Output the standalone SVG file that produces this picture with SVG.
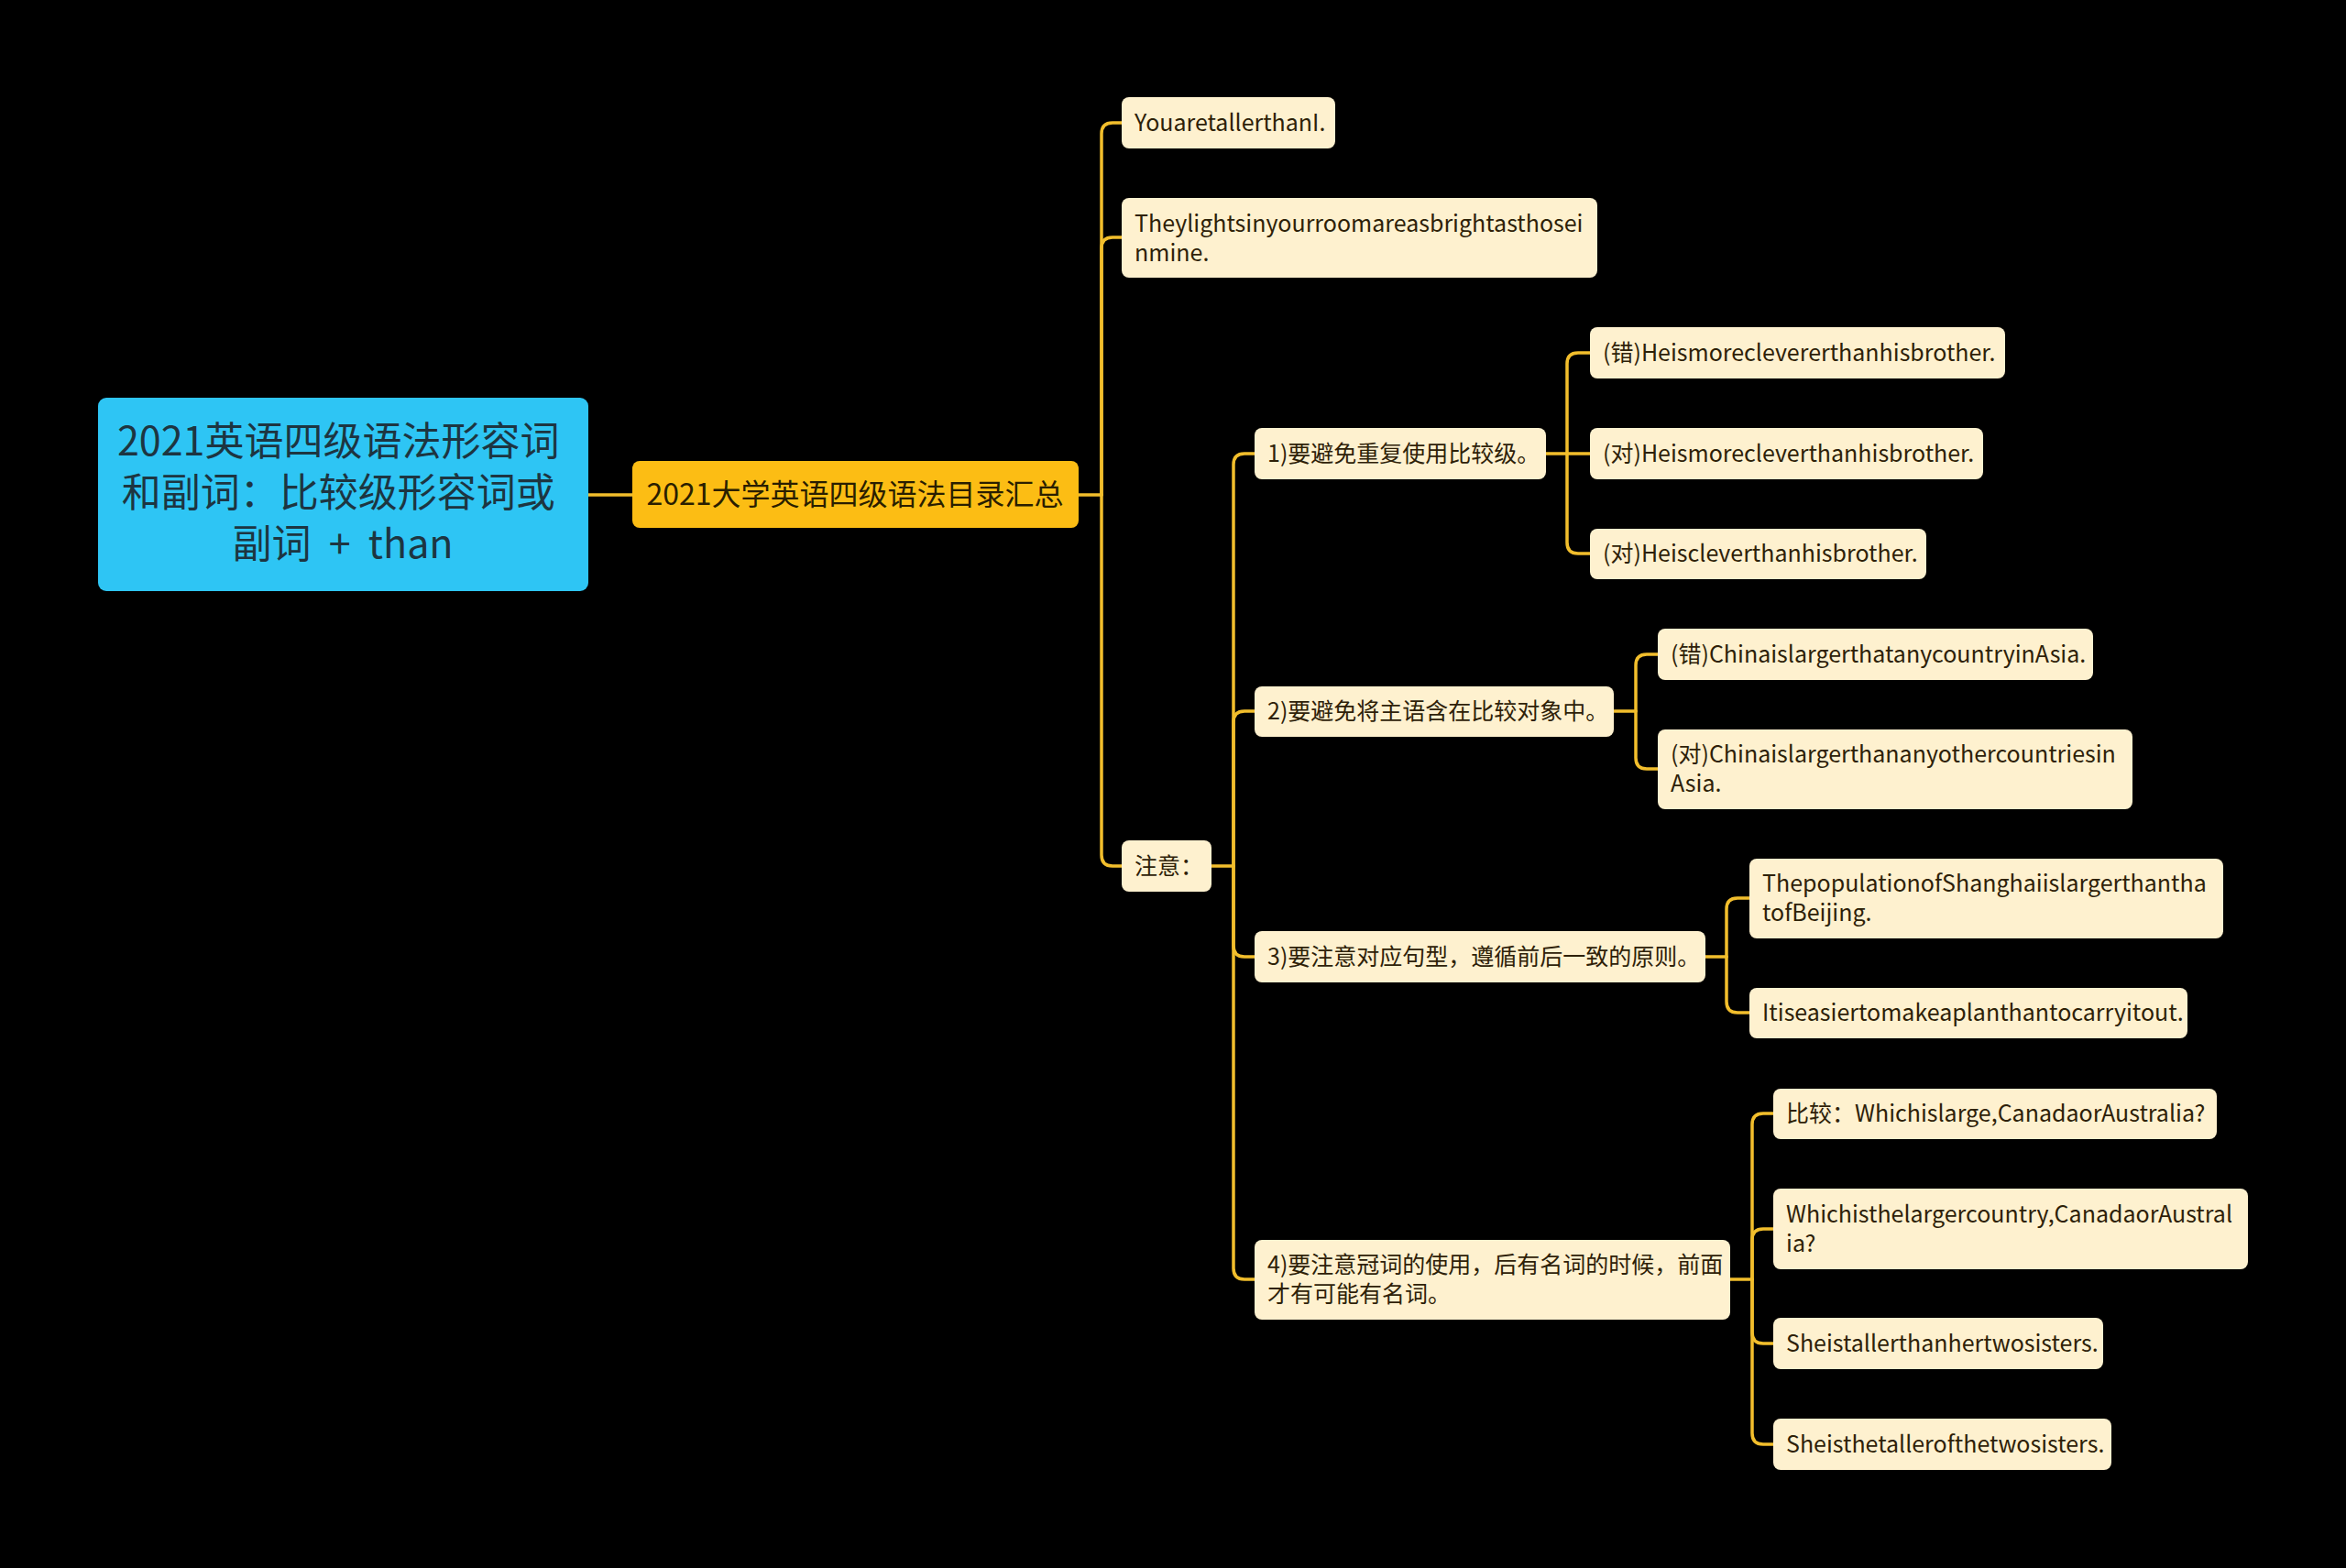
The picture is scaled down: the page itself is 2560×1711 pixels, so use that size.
<svg xmlns="http://www.w3.org/2000/svg" width="2560" height="1711" viewBox="0 0 2560 1711">
<style>
.bg{fill:#000}
.leaf{fill:#FEF1CF}
.t{font-family:"Noto Sans CJK SC","Noto Sans",sans-serif;font-size:25px;fill:#2E2108}
.c{fill:none;stroke:#F2BE2C;stroke-width:3.5;stroke-linecap:round}
</style>
<rect class="bg" x="0" y="0" width="2560" height="1711"/>
<g id="connectors">
<path class="c" d="M642 540 L690 540"/>
<path class="c" d="M1177 540 L1202 540"/>
<path class="c" d="M1202 540 L1202 146 Q1202 134 1214 134 L1224 134"/>
<path class="c" d="M1202 540 L1202 271 Q1202 259 1214 259 L1224 259"/>
<path class="c" d="M1202 540 L1202 933 Q1202 945 1214 945 L1224 945"/>
<path class="c" d="M1322 945 L1346 945"/>
<path class="c" d="M1346 945 L1346 507 Q1346 495 1358 495 L1369 495"/>
<path class="c" d="M1346 945 L1346 788 Q1346 776 1358 776 L1369 776"/>
<path class="c" d="M1346 945 L1346 1032 Q1346 1044 1358 1044 L1369 1044"/>
<path class="c" d="M1346 945 L1346 1384 Q1346 1396 1358 1396 L1369 1396"/>
<path class="c" d="M1687 495 L1735 495"/>
<path class="c" d="M1710 495 L1710 397 Q1710 385 1722 385 L1735 385"/>
<path class="c" d="M1710 495 L1710 592 Q1710 604 1722 604 L1735 604"/>
<path class="c" d="M1761 776 L1785 776"/>
<path class="c" d="M1785 776 L1785 726 Q1785 714 1797 714 L1809 714"/>
<path class="c" d="M1785 776 L1785 827 Q1785 839 1797 839 L1809 839"/>
<path class="c" d="M1861 1044 L1884 1044"/>
<path class="c" d="M1884 1044 L1884 992 Q1884 980 1896 980 L1909 980"/>
<path class="c" d="M1884 1044 L1884 1093 Q1884 1105 1896 1105 L1909 1105"/>
<path class="c" d="M1888 1396 L1912 1396"/>
<path class="c" d="M1912 1396 L1912 1227 Q1912 1215 1924 1215 L1935 1215"/>
<path class="c" d="M1912 1396 L1912 1353 Q1912 1341 1924 1341 L1935 1341"/>
<path class="c" d="M1912 1396 L1912 1454 Q1912 1466 1924 1466 L1935 1466"/>
<path class="c" d="M1912 1396 L1912 1564 Q1912 1576 1924 1576 L1935 1576"/>
</g>
<g id="root">
<rect x="107" y="434" width="535" height="211" rx="9" fill="#2EC5F4"/>
<text font-family="'Noto Sans CJK SC','Noto Sans',sans-serif" font-size="43" fill="#1D3541" text-anchor="middle">
<tspan x="374" y="497">2021英语四级语法形容词</tspan>
<tspan x="374" y="553">和副词：比较级形容词或</tspan>
<tspan x="374" y="609">副词&#160;&#160;+&#160;&#160;than</tspan>
</text>
</g>
<g id="main">
<rect x="690" y="503" width="487" height="73" rx="8" fill="#FCBD14"/>
<text x="933" y="551" font-family="'Noto Sans CJK SC','Noto Sans',sans-serif" font-size="32" fill="#2A1E00" text-anchor="middle">2021大学英语四级语法目录汇总</text>
</g>
<g id="n1"><rect class="leaf" x="1224" y="106" width="233" height="56" rx="8"/><text class="t" x="1238" y="143">YouaretallerthanI.</text></g>
<g id="n2"><rect class="leaf" x="1224" y="216" width="519" height="87" rx="8"/><text class="t"><tspan x="1238" y="253">Theylightsinyourroomareasbrightasthosei</tspan><tspan x="1238" y="285">nmine.</tspan></text></g>
<g id="n3"><rect class="leaf" x="1224" y="917" width="98" height="56" rx="8"/><text class="t" x="1238" y="954">注意：</text></g>
<g id="p1"><rect class="leaf" x="1369" y="467" width="318" height="56" rx="8"/><text class="t" x="1383" y="504">1)要避免重复使用比较级。</text></g>
<g id="p2"><rect class="leaf" x="1369" y="749" width="392" height="55" rx="8"/><text class="t" x="1383" y="785">2)要避免将主语含在比较对象中。</text></g>
<g id="p3"><rect class="leaf" x="1369" y="1016" width="492" height="56" rx="8"/><text class="t" x="1383" y="1053">3)要注意对应句型，遵循前后一致的原则。</text></g>
<g id="p4"><rect class="leaf" x="1369" y="1353" width="519" height="87" rx="8"/><text class="t"><tspan x="1383" y="1389">4)要注意冠词的使用，后有名词的时候，前面</tspan><tspan x="1383" y="1421">才有可能有名词。</tspan></text></g>
<g id="p1a"><rect class="leaf" x="1735" y="357" width="453" height="56" rx="8"/><text class="t" x="1749" y="394">(错)Heismoreclevererthanhisbrother.</text></g>
<g id="p1b"><rect class="leaf" x="1735" y="467" width="429" height="56" rx="8"/><text class="t" x="1749" y="504">(对)Heismorecleverthanhisbrother.</text></g>
<g id="p1c"><rect class="leaf" x="1735" y="577" width="367" height="55" rx="8"/><text class="t" x="1749" y="613">(对)Heiscleverthanhisbrother.</text></g>
<g id="p2a"><rect class="leaf" x="1809" y="686" width="475" height="56" rx="8"/><text class="t" x="1823" y="723">(错)ChinaislargerthatanycountryinAsia.</text></g>
<g id="p2b"><rect class="leaf" x="1809" y="796" width="518" height="87" rx="8"/><text class="t"><tspan x="1823" y="832">(对)Chinaislargerthananyothercountriesin</tspan><tspan x="1823" y="864">Asia.</tspan></text></g>
<g id="p3a"><rect class="leaf" x="1909" y="937" width="517" height="87" rx="8"/><text class="t"><tspan x="1923" y="973">ThepopulationofShanghaiislargerthantha</tspan><tspan x="1923" y="1005">tofBeijing.</tspan></text></g>
<g id="p3b"><rect class="leaf" x="1909" y="1078" width="478" height="55" rx="8"/><text class="t" x="1923" y="1114">Itiseasiertomakeaplanthantocarryitout.</text></g>
<g id="p4a"><rect class="leaf" x="1935" y="1188" width="484" height="55" rx="8"/><text class="t" x="1949" y="1224">比较：Whichislarge,CanadaorAustralia?</text></g>
<g id="p4b"><rect class="leaf" x="1935" y="1297" width="518" height="88" rx="8"/><text class="t"><tspan x="1949" y="1334">Whichisthelargercountry,CanadaorAustral</tspan><tspan x="1949" y="1366">ia?</tspan></text></g>
<g id="p4c"><rect class="leaf" x="1935" y="1438" width="360" height="56" rx="8"/><text class="t" x="1949" y="1475">Sheistallerthanhertwosisters.</text></g>
<g id="p4d"><rect class="leaf" x="1935" y="1548" width="369" height="56" rx="8"/><text class="t" x="1949" y="1585">Sheisthetallerofthetwosisters.</text></g>
</svg>
